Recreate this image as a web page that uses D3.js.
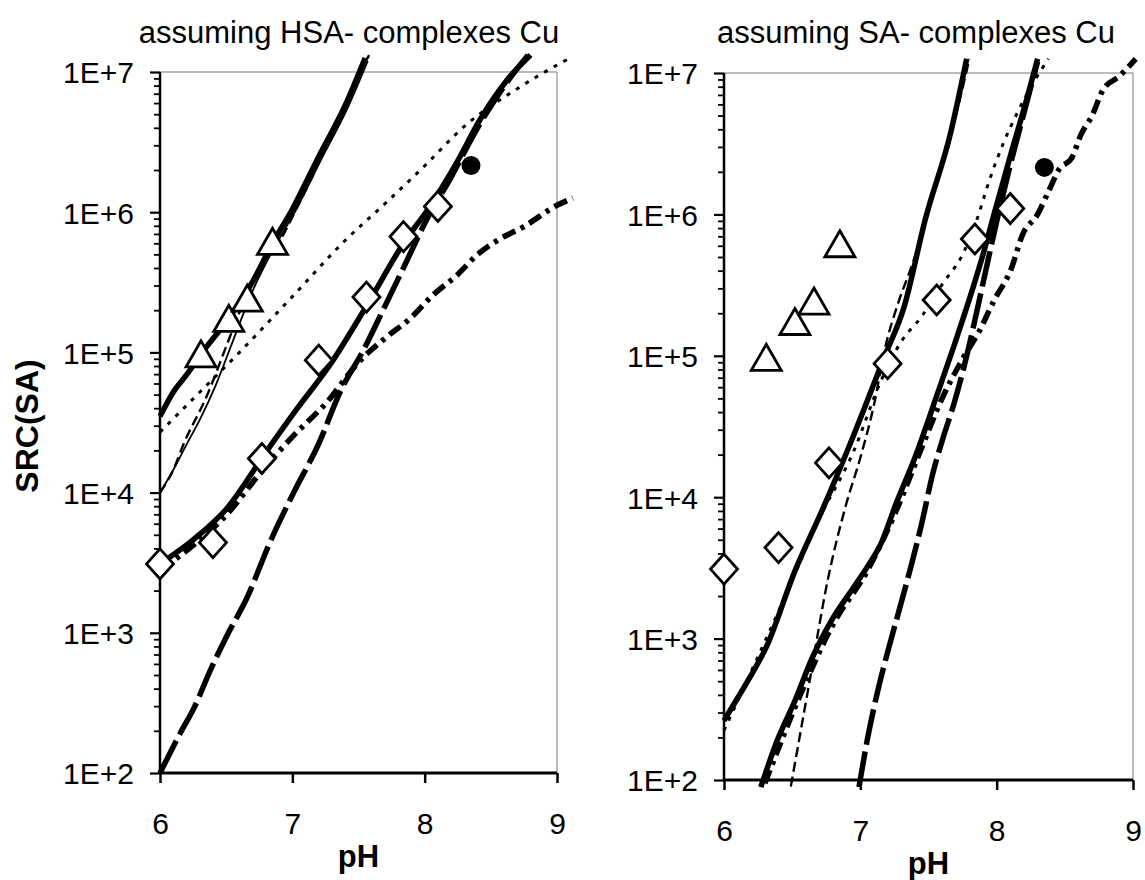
<!DOCTYPE html>
<html>
<head>
<meta charset="utf-8">
<script src="https://cdn.jsdelivr.net/npm/d3@7"></script>
<style>
  body { margin: 0; background: #fff; }
  text { font-family: "Liberation Sans", Arial, sans-serif; fill: #000; }
</style>
</head>
<body>
<svg id="chart" width="1145" height="880"></svg>
<script>
// axis ticks
const pHTicks = [6, 7, 8, 9];
const srcTicks = [1e2, 1e3, 1e4, 1e5, 1e6, 1e7];

// measured points (same in both panels)
const triangles = [[6.31, 9.6e4], [6.52, 1.72e5], [6.66, 2.4e5], [6.85, 6.1e5]];
const diamonds = [[6.0, 3.1e3], [6.4, 4.4e3], [6.77, 1.75e4], [7.2, 8.8e4], [7.56, 2.48e5], [7.84, 6.7e5], [8.1, 1.1e6]];
const circles = [[8.35, 2.15e6]];

// left panel: assuming HSA- complexes Cu
const hsaThickUpper = [[6.0, 3.5e4], [6.1, 5.2e4], [6.2, 6.9e4], [6.32, 1.0e5], [6.5, 1.66e5], [6.7, 3.2e5], [6.85, 6.0e5], [7.0, 1.05e6], [7.2, 2.5e6], [7.4, 5.8e6], [7.55, 1.26e7]];
const hsaThin = [[6.0, 1.0e4], [6.1, 1.45e4], [6.2, 2.2e4], [6.3, 3.3e4], [6.42, 5.8e4], [6.55, 1.2e5], [6.7, 2.75e5], [6.87, 5.75e5], [7.03, 1.05e6], [7.22, 2.4e6], [7.42, 5.6e6], [7.57, 1.2e7]];
const hsaThinDash = [[6.0, 1.0e4], [6.1, 1.45e4], [6.18, 2.24e4], [6.35, 4.8e4], [6.5, 1.1e5], [6.62, 2.14e5], [6.75, 4.0e5], [6.92, 6.6e5], [7.05, 1.15e6], [7.2, 2.24e6], [7.35, 4.6e6], [7.5, 9.5e6], [7.58, 1.32e7]];
const hsaDotted = [[6.0, 2.7e4], [6.3, 5.2e4], [6.6, 1.0e5], [7.0, 2.5e5], [7.4, 6.3e5], [7.7, 1.15e6], [8.0, 2.14e6], [8.3, 4.1e6], [8.7, 7.6e6], [9.0, 1.12e7], [9.08, 1.23e7]];
const hsaThickLower = [[6.0, 3.1e3], [6.25, 4.6e3], [6.5, 7.6e3], [6.81, 2.0e4], [7.03, 3.9e4], [7.29, 8.3e4], [7.56, 2.14e5], [7.84, 6.0e5], [8.04, 1.1e6], [8.24, 2.24e6], [8.42, 4.6e6], [8.62, 8.7e6], [8.8, 1.32e7]];
const hsaLongDash = [[6.0, 100], [6.15, 190], [6.26, 295], [6.38, 540], [6.5, 930], [6.66, 1.8e3], [6.83, 4.4e3], [7.01, 1.0e4], [7.2, 2.24e4], [7.36, 5.2e4], [7.54, 1.05e5], [7.7, 2.14e5], [7.85, 4.2e5], [8.0, 8.3e5], [8.2, 1.78e6], [8.4, 4.0e6], [8.6, 7.9e6], [8.78, 1.32e7]];
const hsaDashDot = [[6.0, 2.8e3], [6.25, 4.2e3], [6.5, 6.9e3], [6.75, 1.35e4], [7.0, 2.5e4], [7.26, 4.4e4], [7.5, 8.5e4], [7.7, 1.26e5], [7.9, 1.78e5], [8.05, 2.5e5], [8.25, 3.6e5], [8.4, 5.0e5], [8.55, 6.3e5], [8.75, 7.9e5], [9.0, 1.12e6], [9.12, 1.26e6]];

// right panel: assuming SA- complexes Cu
const saThickLeft = [[6.0, 263], [6.1, 380], [6.18, 513], [6.31, 870], [6.52, 3.0e3], [6.73, 8.5e3], [6.93, 2.45e4], [7.18, 1.0e5], [7.32, 2.2e5], [7.48, 9.5e5], [7.66, 3.7e6], [7.78, 1.26e7]];
const saThinDash = [[6.49, 90], [6.63, 513], [6.76, 2.57e3], [6.89, 8.5e3], [7.0, 1.9e4], [7.1, 4.5e4], [7.18, 1.12e5], [7.28, 2.4e5], [7.38, 4.4e5], [7.48, 8.9e5], [7.58, 2.0e6], [7.69, 4.6e6], [7.8, 1.26e7]];
const saDotted = [[6.0, 224], [6.45, 2.0e3], [6.7, 7.1e3], [6.95, 2.1e4], [7.15, 6.6e4], [7.3, 1.26e5], [7.45, 1.9e5], [7.6, 3.2e5], [7.75, 5.2e5], [7.85, 8.9e5], [7.95, 1.78e6], [8.05, 3.2e6], [8.15, 5.2e6], [8.28, 8.9e6], [8.38, 1.26e7]];
const saThickRight = [[6.27, 89], [6.39, 190], [6.52, 363], [6.65, 741], [6.79, 1.35e3], [6.95, 2.3e3], [7.05, 3.2e3], [7.16, 4.9e3], [7.26, 8.9e3], [7.4, 1.9e4], [7.56, 5.2e4], [7.69, 1.2e5], [7.82, 2.9e5], [7.9, 5.2e5], [7.98, 1.0e6], [8.11, 2.8e6], [8.22, 6.5e6], [8.3, 1.26e7]];
const saLongDash = [[6.99, 89], [7.05, 190], [7.13, 436], [7.21, 870], [7.29, 1.66e3], [7.37, 3.2e3], [7.45, 6.5e3], [7.53, 1.45e4], [7.6, 2.5e4], [7.69, 4.7e4], [7.77, 9.1e4], [7.84, 1.78e5], [7.92, 4.0e5], [8.0, 8.9e5], [8.1, 2.24e6], [8.2, 5.2e6], [8.3, 1.2e7]];
const saDashDot = [[6.3, 95], [6.55, 380], [6.8, 1.26e3], [7.05, 3.0e3], [7.26, 7.9e3], [7.45, 2.24e4], [7.6, 5.0e4], [7.75, 9.5e4], [7.87, 1.48e5], [7.98, 2.45e5], [8.11, 4.2e5], [8.19, 7.2e5], [8.3, 1.0e6], [8.38, 1.45e6], [8.46, 2.1e6], [8.55, 2.5e6], [8.62, 3.7e6], [8.7, 5.0e6], [8.78, 7.6e6], [8.9, 9.5e6], [9.02, 1.26e7]];

const styles = {
  thick:    { w: 5.5, dash: null },
  thin:     { w: 1.8, dash: null },
  thinDash: { w: 2.4, dash: "10,5" },
  dotted:   { w: 3,   dash: "4,7" },
  longDash: { w: 5.5, dash: "36,7" },
  dashDot:  { w: 5.5, dash: "14,6,4,6" }
};

const panels = [
  {
    title: "assuming HSA- complexes Cu", titleX: 349,
    box: { x0: 160, x1: 557, y0: 72, y1: 773 },
    series: [
      [hsaLongDash, "longDash"], [hsaDashDot, "dashDot"], [hsaDotted, "dotted"],
      [hsaThinDash, "thinDash"], [hsaThin, "thin"],
      [hsaThickLower, "thick"], [hsaThickUpper, "thick"]
    ]
  },
  {
    title: "assuming SA- complexes Cu", titleX: 916,
    box: { x0: 724, x1: 1133, y0: 73, y1: 780 },
    series: [
      [saLongDash, "longDash"], [saDashDot, "dashDot"], [saDotted, "dotted"],
      [saThinDash, "thinDash"],
      [saThickRight, "thick"], [saThickLeft, "thick"]
    ]
  }
];

const svg = d3.select("#chart");
svg.append("rect").attr("width", 1145).attr("height", 880).attr("fill", "#fff");

const minorTicks = [];
srcTicks.slice(0, -1).forEach(d => { for (let k = 2; k <= 9; k++) minorTicks.push(d * k); });

panels.forEach(p => drawPanel(p));

// y axis title
svg.append("text")
  .attr("transform", "translate(38,426) rotate(-90)")
  .attr("text-anchor", "middle")
  .style("font-size", "32px").style("font-weight", "bold")
  .text("SRC(SA)");

function drawPanel(p) {
  const b = p.box;
  const x = d3.scaleLinear().domain([6, 9]).range([b.x0, b.x1]);
  const y = d3.scaleLog().domain([1e2, 1e7]).range([b.y1, b.y0]);
  const g = svg.append("g");

  // plot area border (top + right, thin grey)
  g.append("path")
    .attr("d", `M${x(6)},${y(1e7)}H${x(9)}V${y(1e2)}`)
    .attr("fill", "none").attr("stroke", "#777").attr("stroke-width", 1);

  const line = d3.line()
    .x(d => x(d[0]))
    .y(d => y(d[1]))
    .curve(d3.curveMonotoneX);

  p.series.forEach(([data, key]) => {
    const s = styles[key];
    g.append("path")
      .datum(data)
      .attr("fill", "none")
      .attr("stroke", "#000")
      .attr("stroke-width", s.w)
      .attr("stroke-dasharray", s.dash)
      .attr("stroke-linejoin", "round")
      .attr("d", line);
  });

  // y axis, minor then major ticks
  const yMinor = g.append("g")
    .attr("transform", `translate(${b.x0},0)`)
    .call(d3.axisLeft(y).tickValues(minorTicks).tickSize(6).tickFormat(""));
  yMinor.select(".domain").remove();
  yMinor.selectAll("line").attr("stroke-width", 1.8);

  const yAxis = g.append("g")
    .attr("transform", `translate(${b.x0},0)`)
    .call(d3.axisLeft(y).tickValues(srcTicks).tickSize(10).tickPadding(16)
      .tickFormat(d => "1E+" + Math.round(Math.log10(d))));
  yAxis.select(".domain").attr("stroke-width", 2.5).attr("d", `M0,${y(1e7)}V${y(1e2)}`);
  yAxis.selectAll("line").attr("stroke-width", 2.2);
  yAxis.selectAll("text")
    .style("font-size", "30px")
    .style("font-family", '"Liberation Sans", Arial, sans-serif')
    .attr("dy", "0.36em");

  // x axis
  const xAxis = g.append("g")
    .attr("transform", `translate(0,${b.y1})`)
    .call(d3.axisBottom(x).tickValues(pHTicks).tickSize(10).tickPadding(30).tickFormat(d3.format("d")));
  xAxis.select(".domain").attr("stroke-width", 3).attr("d", `M${x(6)},0H${x(9)}`);
  xAxis.selectAll("line").attr("stroke-width", 2.5);
  xAxis.selectAll("text")
    .style("font-size", "30px")
    .style("font-family", '"Liberation Sans", Arial, sans-serif');

  // markers
  const mk = g.append("g");
  triangles.forEach(d => {
    const cx = x(d[0]), cy = y(d[1]);
    mk.append("path")
      .attr("d", `M${cx},${cy - 14}L${cx + 15},${cy + 12}L${cx - 15},${cy + 12}Z`)
      .attr("fill", "#fff").attr("stroke", "#000").attr("stroke-width", 2.8);
  });
  diamonds.forEach(d => {
    const cx = x(d[0]), cy = y(d[1]);
    mk.append("path")
      .attr("d", `M${cx},${cy - 15}L${cx + 13.5},${cy}L${cx},${cy + 15}L${cx - 13.5},${cy}Z`)
      .attr("fill", "#fff").attr("stroke", "#000").attr("stroke-width", 2.8);
  });
  circles.forEach(d => {
    mk.append("circle")
      .attr("cx", x(d[0])).attr("cy", y(d[1])).attr("r", 9.5)
      .attr("fill", "#000");
  });

  // titles
  g.append("text")
    .attr("x", p.titleX).attr("y", 43)
    .attr("text-anchor", "middle")
    .style("font-size", "31px")
    .text(p.title);

  g.append("text")
    .attr("x", (b.x0 + b.x1) / 2).attr("y", b.y1 + 94)
    .attr("text-anchor", "middle")
    .style("font-size", "31px").style("font-weight", "bold")
    .text("pH");
}
</script>
</body>
</html>
